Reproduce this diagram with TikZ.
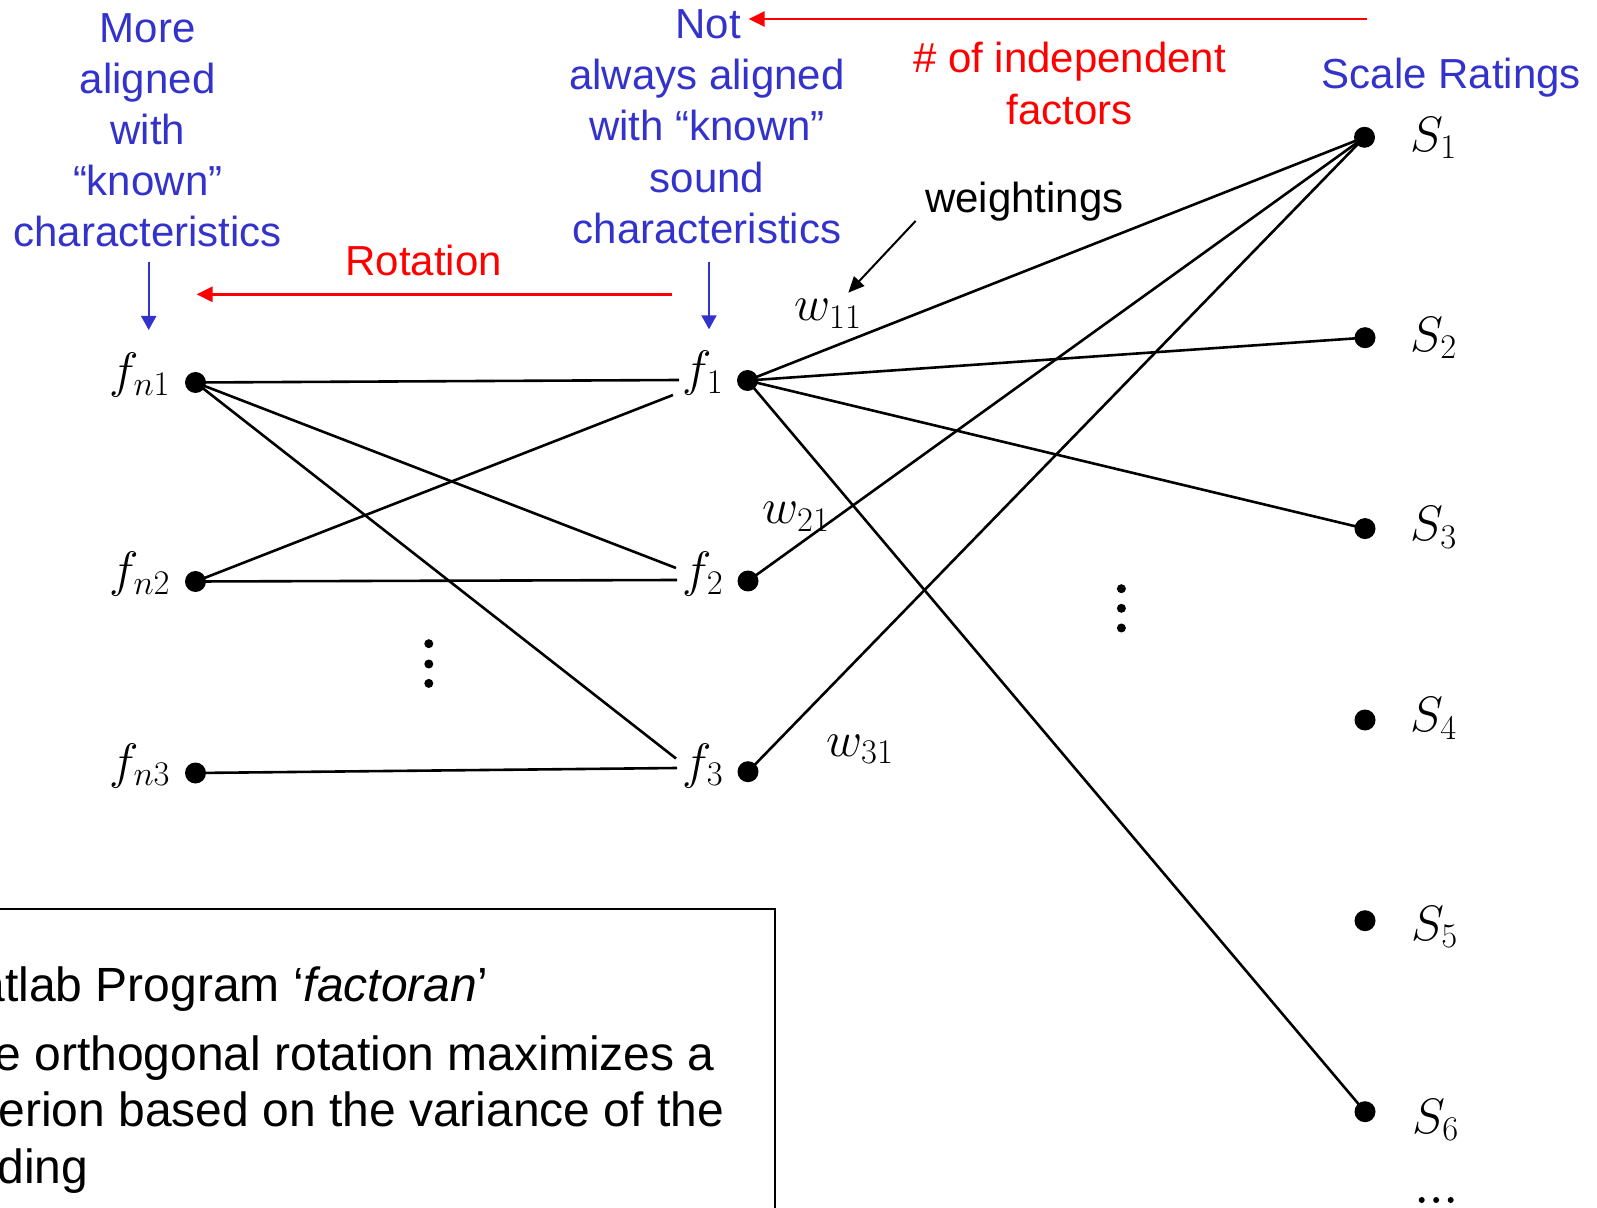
\documentclass[tikz,border=0pt]{standalone}
\usepackage[no-math]{fontspec}
\setmainfont{Liberation Sans}
\usetikzlibrary{arrows.meta}
\definecolor{lblue}{RGB}{51,51,204}
\definecolor{lred}{RGB}{255,0,0}
\begin{document}
\begin{tikzpicture}[x=0.5pt,y=-0.5pt,
  lab/.style={font=\fontsize{21}{25}\selectfont, inner sep=0, anchor=base},
  bl/.style={lab, text=lblue},
  rd/.style={lab, text=lred},
  boxtxt/.style={font=\fontsize{24}{28}\selectfont, inner sep=0, anchor=base west},
  mth/.style={font=\fontsize{24}{28}\selectfont, inner sep=0},
  bigdot/.style={circle, fill=black, minimum size=10.5pt, inner sep=0},
  smalldot/.style={circle, fill=black, minimum size=4.5pt, inner sep=0},
  tinydot/.style={circle, fill=black, minimum size=3pt, inner sep=0},
  wire/.style={line width=1.3pt},
  barrow/.style={draw=lblue, line width=1pt, -{Triangle[length=7pt,width=7.5pt]}},
  rarrow/.style={draw=lred, line width=1.3pt, -{Triangle[length=8pt,width=7.5pt]}},
  karrow/.style={draw=black, line width=1pt, -{Triangle[length=8pt,width=7pt]}},
]
\useasboundingbox (0,0) rectangle (1597,1208);
\clip (0,0) rectangle (1597,1208);

% dots
\node[bigdot] (fn1) at (195.5,382.5) {};
\node[bigdot] (fn2) at (195.5,581.5) {};
\node[bigdot] (fn3) at (195.5,773) {};
\node[bigdot] (f1) at (747.5,380.5) {};
\node[bigdot] (f2) at (748,581) {};
\node[bigdot] (f3) at (748,771.7) {};
\node[bigdot] (S1) at (1364.5,137.3) {};
\node[bigdot] (S2) at (1365,337.7) {};
\node[bigdot] (S3) at (1365,528.6) {};
\node[bigdot] (S4) at (1365,720) {};
\node[bigdot] (S5) at (1365,920.7) {};
\node[bigdot] (S6) at (1365,1111.7) {};

% math labels
\node[mth, anchor=base east] (lfn1) at (171,388) {$f_{n1}$};
\node[mth, anchor=base east] (lfn2) at (171,587) {$f_{n2}$};
\node[mth, anchor=base east] (lfn3) at (171,778.5) {$f_{n3}$};
\node[mth, anchor=base east] (lf1) at (724,386) {$f_{1}$};
\node[mth, anchor=base east] (lf2) at (724,587) {$f_{2}$};
\node[mth, anchor=base east] (lf3) at (724,778) {$f_{3}$};
\node[mth, anchor=base west] (lS1) at (1410,151.5) {$S_{1}$};
\node[mth, anchor=base west] (lS2) at (1410,351.5) {$S_{2}$};
\node[mth, anchor=base west] (lS3) at (1410,541) {$S_{3}$};
\node[mth, anchor=base west] (lS4) at (1410,732) {$S_{4}$};
\node[mth, anchor=base west] (lS5) at (1411,940) {$S_{5}$};
\node[mth, anchor=base west] (lS6) at (1412,1133) {$S_{6}$};
\node[mth, anchor=base west] (w11) at (794,321) {$w_{11}$};
\node[mth, anchor=base west] (w21) at (762,524) {$w_{21}$};
\node[mth, anchor=base west] (w31) at (826,756) {$w_{31}$};

% line ends near f labels
\coordinate (e11) at (679,380);
\coordinate (e21) at (673,395);
\coordinate (e12) at (676,568);
\coordinate (e22) at (677,580);
\coordinate (e13) at (676,758.5);
\coordinate (e33) at (677,768);

\draw[wire] (fn1.center) -- (e11);
\draw[wire] (fn1.center) -- (e12);
\draw[wire] (fn1.center) -- (e13);
\draw[wire] (fn2.center) -- (e21);
\draw[wire] (fn2.center) -- (e22);
\draw[wire] (fn3.center) -- (e33);

\draw[wire] (f1.center) -- (S1.center);
\draw[wire] (f1.center) -- (S2.center);
\draw[wire] (f1.center) -- (S3.center);
\draw[wire] (f1.center) -- (S6.center);
\draw[wire] (f2.center) -- (S1.center);
\draw[wire] (f3.center) -- (S1.center);

% ellipsis dots
\node[smalldot] (va1) at (428.8,643.7) {};
\node[smalldot] (va2) at (428.8,664) {};
\node[smalldot] (va3) at (428.8,683.4) {};
\node[smalldot] (vb1) at (1121.4,588.7) {};
\node[smalldot] (vb2) at (1121.4,608.3) {};
\node[smalldot] (vb3) at (1121.4,628) {};
\node[tinydot] (h1) at (1421.7,1200) {};
\node[tinydot] (h2) at (1436.2,1200) {};
\node[tinydot] (h3) at (1450.7,1200) {};

% left blue text
\node[bl] (L1) at (147.7,42.3) {More};
\node[bl] (L2) at (147.7,93.4) {aligned};
\node[bl] (L3) at (147.7,144.5) {with};
\node[bl] (L4) at (147.7,195.6) {“known”};
\node[bl] (L5) at (147.7,246.7) {characteristics};

% middle blue text
\node[bl] (M1) at (708,39) {Not};
\node[bl] (M2) at (707,90) {always aligned};
\node[bl] (M3) at (707,141) {with “known”};
\node[bl] (M4) at (707,192.4) {sound};
\node[bl] (M5) at (707,243.5) {characteristics};

\node[bl] (SR) at (1451.4,88.3) {Scale Ratings};
\node[rd] (R) at (423.7,276) {Rotation};
\node[rd] (I1) at (1069.5,72.7) {\# of independent};
\node[rd] (I2) at (1069.5,124.3) {factors};
\node[lab, anchor=base west] (W) at (924.8,212.5) {weightings};

% arrows
\coordinate (ba1s) at (148.7,261.7);
\coordinate (ba1e) at (148.7,330);
\coordinate (ba2s) at (709,261.7);
\coordinate (ba2e) at (709,329.3);
\draw[barrow] (ba1s) -- (ba1e);
\draw[barrow] (ba2s) -- (ba2e);
\coordinate (ra1s) at (671.7,294.3);
\coordinate (ra1e) at (196.6,294.3);
\draw[rarrow] (ra1s) -- (ra1e);
\coordinate (ra2s) at (1367,19);
\coordinate (ra2e) at (748.6,19);
\draw[rarrow] (ra2s) -- (ra2e);
\coordinate (ka1s) at (915.6,221);
\coordinate (ka1e) at (848.3,292.7);
\draw[karrow] (ka1s) -- (ka1e);

% box
\draw[line width=1pt] (-20,909.3) rectangle (775,1240);
\node[boxtxt] (B1) at (-62,1001.7) {Matlab Program ‘\textit{factoran}’};
\node[boxtxt] (B2) at (-62,1070) {The orthogonal rotation maximizes a};
\node[boxtxt] (B3) at (-66,1126.7) {criterion based on the variance of the};
\node[boxtxt] (B4) at (-67,1183) {loading};
\end{tikzpicture}
\end{document}
